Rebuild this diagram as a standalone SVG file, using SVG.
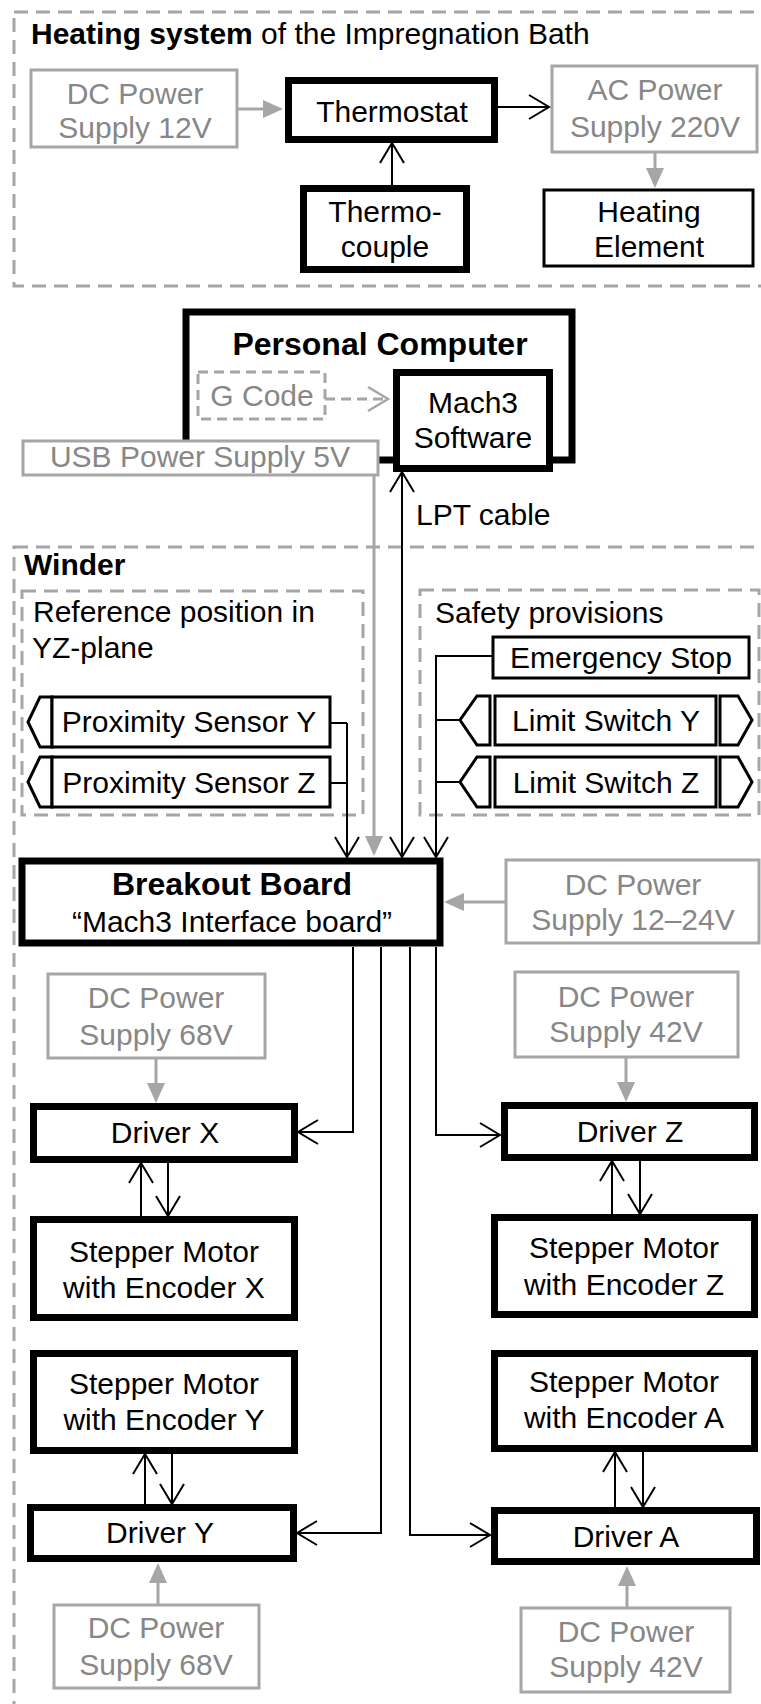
<svg xmlns="http://www.w3.org/2000/svg" width="761" height="1704" viewBox="0 0 761 1704">
<defs>
<style>
text{font-family:"Liberation Sans",Arial,sans-serif;font-size:30px;fill:#000}
.c{text-anchor:middle}
.g{fill:#878787}
.b{font-weight:bold}
.bt{font-weight:bold;font-size:32px}
.grp{fill:none;stroke:#a6a6a6;stroke-width:3;stroke-dasharray:14 8}
.gbox{fill:#fff;stroke:#a6a6a6;stroke-width:3}
.gdash{fill:#fff;stroke:#a6a6a6;stroke-width:3;stroke-dasharray:10 6}
.thick{fill:#fff;stroke:#000;stroke-width:7}
.thin{fill:#fff;stroke:#000;stroke-width:3}
.ln{fill:none;stroke:#000;stroke-width:2}
.gln{fill:none;stroke:#a6a6a6;stroke-width:3}
.arr{marker-end:url(#open)}
.garr{marker-end:url(#fill)}
</style>
<marker id="open" markerUnits="userSpaceOnUse" markerWidth="24" markerHeight="26" refX="21" refY="12" orient="auto-start-reverse" overflow="visible">
<path d="M1,0 L21,12 L1,24" fill="none" stroke="#000" stroke-width="2"/>
</marker>
<marker id="gopen" markerUnits="userSpaceOnUse" markerWidth="24" markerHeight="26" refX="21" refY="12" orient="auto" overflow="visible">
<path d="M1,0 L21,12 L1,24" fill="none" stroke="#a6a6a6" stroke-width="2.5"/>
</marker>
<marker id="fill" markerUnits="userSpaceOnUse" markerWidth="22" markerHeight="20" refX="16" refY="9" orient="auto" overflow="visible">
<path d="M0,0 L20,9 L0,18 Z" fill="#a6a6a6"/>
</marker>
</defs>
<rect width="761" height="1704" fill="#fff"/>

<g id="heating-system">
<rect class="grp" x="14" y="12" width="770" height="274"/>
<text x="31" y="44"><tspan class="b">Heating system</tspan> of the Impregnation Bath</text>
</g>

<g id="dc12">
<rect class="gbox" x="31" y="70" width="206" height="77"/>
<text class="c g" x="135" y="104">DC Power</text>
<text class="c g" x="135" y="138">Supply 12V</text>
</g>
<g id="thermostat">
<rect class="thick" x="288.5" y="80.5" width="206" height="59"/>
<text class="c" x="392" y="122">Thermostat</text>
</g>
<g id="ac220">
<rect class="gbox" x="552" y="66" width="205" height="86"/>
<text class="c g" x="655" y="100">AC Power</text>
<text class="c g" x="655" y="137">Supply 220V</text>
</g>
<g id="heating-element">
<rect class="thin" x="544" y="190" width="209" height="76"/>
<text class="c" x="649" y="222">Heating</text>
<text class="c" x="649" y="257">Element</text>
</g>
<g id="thermocouple">
<rect class="thick" x="303.5" y="188.5" width="163" height="81"/>
<text class="c" x="385" y="222">Thermo-</text>
<text class="c" x="385" y="257">couple</text>
</g>

<g id="personal-computer">
<rect class="thick" x="186" y="312" width="386" height="148" stroke-width="8"/>
<text class="c bt" x="380" y="355">Personal Computer</text>
</g>
<g id="g-code">
<rect class="gdash" x="198" y="372" width="127" height="47"/>
<text class="c g" x="262" y="406">G Code</text>
</g>
<g id="mach3">
<rect class="thick" x="396.5" y="372.5" width="153" height="96"/>
<text class="c" x="473" y="413">Mach3</text>
<text class="c" x="473" y="448">Software</text>
</g>
<g id="usb">
<rect class="gbox" x="23" y="441" width="355" height="34"/>
<text class="c g" x="200" y="467">USB Power Supply 5V</text>
</g>

<g id="winder">
<rect class="grp" x="14" y="547" width="770" height="1200"/>
<text class="b" x="24" y="575">Winder</text>
</g>
<g id="reference-position">
<rect class="grp" x="22" y="591" width="341" height="224"/>
<text x="33" y="622">Reference position in</text>
<text x="32" y="658">YZ-plane</text>
</g>
<g id="proximity-y">
<path class="thin" d="M52,697 L40,697 L28,722 L40,747 L52,747 Z"/>
<rect class="thin" x="52" y="697" width="278" height="50"/>
<text class="c" x="189" y="732">Proximity Sensor Y</text>
</g>
<g id="proximity-z">
<path class="thin" d="M52,757 L40,757 L28,782 L40,807 L52,807 Z"/>
<rect class="thin" x="52" y="757" width="278" height="50"/>
<text class="c" x="189" y="793">Proximity Sensor Z</text>
</g>
<g id="safety-provisions">
<rect class="grp" x="420" y="590" width="339" height="225"/>
<text x="435" y="623">Safety provisions</text>
</g>
<g id="emergency-stop">
<rect class="thin" x="493" y="637" width="256" height="41"/>
<text class="c" x="621" y="668">Emergency Stop</text>
</g>
<g id="limit-switch-y">
<path class="thin" d="M490,696 L477,696 L460,720 L477,745 L490,745 Z"/>
<rect class="thin" x="495" y="696" width="221" height="49"/>
<path class="thin" d="M720,696 L738,696 L752,720 L738,745 L720,745 Z"/>
<text class="c" x="606" y="731">Limit Switch Y</text>
</g>
<g id="limit-switch-z">
<path class="thin" d="M490,757 L477,757 L460,782 L477,807 L490,807 Z"/>
<rect class="thin" x="495" y="757" width="221" height="50"/>
<path class="thin" d="M720,757 L738,757 L752,782 L738,807 L720,807 Z"/>
<text class="c" x="606" y="793">Limit Switch Z</text>
</g>

<g id="breakout-board">
<rect class="thick" x="22" y="861" width="418" height="82" stroke-width="8"/>
<text class="c bt" x="232" y="895">Breakout Board</text>
<text class="c" x="232" y="932">“Mach3 Interface board”</text>
</g>
<g id="dc12-24">
<rect class="gbox" x="506" y="860" width="253" height="83"/>
<text class="c g" x="633" y="895">DC Power</text>
<text class="c g" x="633" y="930">Supply 12–24V</text>
</g>
<g id="dc68-top">
<rect class="gbox" x="48" y="974" width="217" height="84"/>
<text class="c g" x="156" y="1008">DC Power</text>
<text class="c g" x="156" y="1045">Supply 68V</text>
</g>
<g id="dc42-top">
<rect class="gbox" x="515" y="972" width="223" height="85"/>
<text class="c g" x="626" y="1007">DC Power</text>
<text class="c g" x="626" y="1042">Supply 42V</text>
</g>
<g id="driver-x">
<rect class="thick" x="33.5" y="1106.5" width="261" height="53"/>
<text class="c" x="165" y="1143">Driver X</text>
</g>
<g id="motor-x">
<rect class="thick" x="33.5" y="1219.5" width="261" height="98"/>
<text class="c" x="164" y="1262">Stepper Motor</text>
<text class="c" x="164" y="1298">with Encoder X</text>
</g>
<g id="driver-z">
<rect class="thick" x="504.5" y="1105.5" width="250" height="52"/>
<text class="c" x="630" y="1142">Driver Z</text>
</g>
<g id="motor-z">
<rect class="thick" x="494.5" y="1217.5" width="260" height="97"/>
<text class="c" x="624" y="1258">Stepper Motor</text>
<text class="c" x="624" y="1295">with Encoder Z</text>
</g>
<g id="motor-y">
<rect class="thick" x="33.5" y="1353.5" width="261" height="97"/>
<text class="c" x="164" y="1394">Stepper Motor</text>
<text class="c" x="164" y="1430">with Encoder Y</text>
</g>
<g id="driver-y">
<rect class="thick" x="30.5" y="1507.5" width="263" height="51"/>
<text class="c" x="160" y="1543">Driver Y</text>
</g>
<g id="motor-a">
<rect class="thick" x="494.5" y="1353.5" width="260" height="95"/>
<text class="c" x="624" y="1392">Stepper Motor</text>
<text class="c" x="624" y="1428">with Encoder A</text>
</g>
<g id="driver-a">
<rect class="thick" x="494.5" y="1510.5" width="262" height="51"/>
<text class="c" x="626" y="1547">Driver A</text>
</g>
<g id="dc68-bottom">
<rect class="gbox" x="54" y="1605" width="205" height="83"/>
<text class="c g" x="156" y="1638">DC Power</text>
<text class="c g" x="156" y="1675">Supply 68V</text>
</g>
<g id="dc42-bottom">
<rect class="gbox" x="521" y="1608" width="209" height="84"/>
<text class="c g" x="626" y="1642">DC Power</text>
<text class="c g" x="626" y="1677">Supply 42V</text>
</g>

<g id="connectors">
<line class="gln garr" x1="238" y1="109" x2="279" y2="109"/>
<line class="ln arr" x1="498" y1="107" x2="549" y2="107"/>
<line class="gln garr" x1="655" y1="152" x2="655" y2="184"/>
<line class="ln arr" x1="392" y1="185" x2="392" y2="143"/>
<line class="gln" x1="325" y1="399" x2="388" y2="399" stroke-dasharray="10 6" marker-end="url(#gopen)"/>
<line class="ln arr" x1="402" y1="857" x2="402" y2="472" marker-start="url(#open)"/>
<text x="416" y="525">LPT cable</text>
<line class="gln garr" x1="374" y1="475" x2="374" y2="852"/>
<polyline class="ln" points="330,723 347,723"/>
<polyline class="ln arr" points="330,783 347,783 347,857"/>
<line class="ln" x1="347" y1="723" x2="347" y2="783"/>
<polyline class="ln arr" points="493,656 436,656 436,857"/>
<line class="ln" x1="436" y1="720" x2="460" y2="720"/>
<line class="ln" x1="436" y1="782" x2="460" y2="782"/>
<line class="gln garr" x1="506" y1="902" x2="448" y2="902"/>
<polyline class="ln arr" points="353,947 353,1132 298,1132"/>
<polyline class="ln arr" points="381,947 381,1533 297,1533"/>
<polyline class="ln arr" points="410,947 410,1535 490,1535"/>
<polyline class="ln arr" points="436,947 436,1135 500,1135"/>
<line class="gln garr" x1="156" y1="1058" x2="156" y2="1099"/>
<line class="gln garr" x1="626" y1="1057" x2="626" y2="1098"/>
<line class="ln arr" x1="141" y1="1216" x2="141" y2="1163"/>
<line class="ln arr" x1="168" y1="1163" x2="168" y2="1216"/>
<line class="ln arr" x1="612" y1="1214" x2="612" y2="1161"/>
<line class="ln arr" x1="640" y1="1161" x2="640" y2="1214"/>
<line class="ln arr" x1="145" y1="1504" x2="145" y2="1454"/>
<line class="ln arr" x1="172" y1="1454" x2="172" y2="1504"/>
<line class="ln arr" x1="615" y1="1507" x2="615" y2="1452"/>
<line class="ln arr" x1="643" y1="1452" x2="643" y2="1507"/>
<line class="gln garr" x1="158" y1="1605" x2="158" y2="1567"/>
<line class="gln garr" x1="627" y1="1608" x2="627" y2="1570"/>
</g>
</svg>
